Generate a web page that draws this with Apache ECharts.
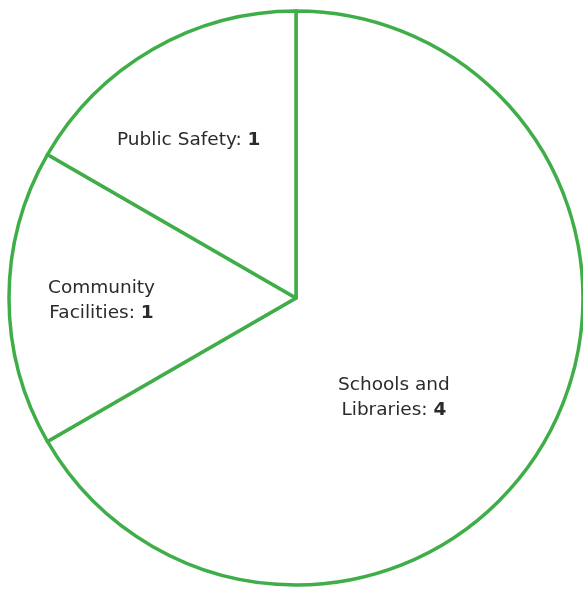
<!DOCTYPE html>
<html>
<head>
<meta charset="utf-8">
<script src="https://cdn.jsdelivr.net/npm/echarts@6/dist/echarts.min.js"></script>
<style>
html,body{margin:0;padding:0;background:#fff;}
#chart{width:583px;height:589px;}
</style>
</head>
<body>
<div id="chart"></div>
<script>
const categories = ["Schools and\nLibraries", "Community\nFacilities", "Public Safety"];
const values = [4, 1, 1];

const labelShift = [[-29, 26], [-48, 3], [-34, -31]];

const chart = echarts.init(document.getElementById('chart'));
chart.setOption({
  animation: false,
  series: [{
    type: 'pie',
    center: [296, 298],
    radius: [0, 287],
    startAngle: 90,
    clockwise: true,
    data: categories.map((c, i) => ({ name: c, value: values[i] })),
    itemStyle: { color: '#ffffff', borderColor: '#3fae49', borderWidth: 3.5 },
    emphasis: { disabled: true },
    labelLine: { show: false },
    label: {
      show: true,
      position: 'inside',
      align: 'center',
      formatter: function (p) {
        const lines = p.name.split('\n');
        return lines.map((l, i) => i < lines.length - 1 ? '{n|' + l + '}' : '{n|' + l + ': }{v|' + p.value + '}').join('\n');
      },
      rich: {
        n: { fontFamily: 'DejaVu Sans', fontSize: 18.5, color: '#2b2b2b', lineHeight: 25 },
        v: { fontFamily: 'DejaVu Sans', fontSize: 18.5, fontWeight: 'bold', color: '#2b2b2b', lineHeight: 25 }
      }
    },
    labelLayout: function (params) {
      const s = labelShift[params.dataIndex];
      return { dx: s[0], dy: s[1] };
    }
  }]
});
</script>
</body>
</html>
